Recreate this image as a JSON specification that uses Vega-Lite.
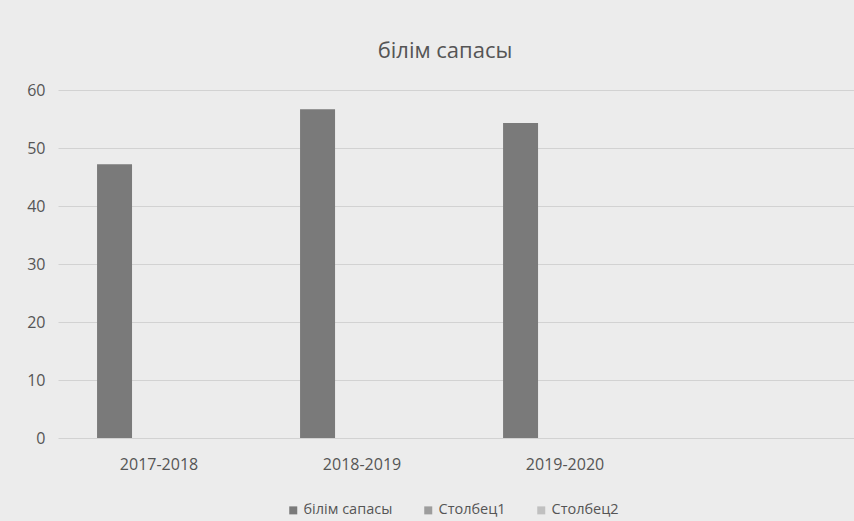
{
  "$schema": "https://vega.github.io/schema/vega-lite/v6.json",
  "width": 796,
  "height": 348,
  "autosize": "none",
  "padding": {"left": 58, "top": 90, "right": 0, "bottom": 83},
  "background": "#ececec",
  "title": {
    "text": "білім сапасы",
    "font": "Open Sans",
    "fontSize": 22,
    "fontWeight": "normal",
    "color": "#555555",
    "baseline": "alphabetic",
    "offset": 2,
    "dx": -11,
    "anchor": "middle"
  },
  "data": {
    "values": [
      {"year": "2017-2018", "series": "білім сапасы", "value": 47.2},
      {"year": "2018-2019", "series": "білім сапасы", "value": 56.7},
      {"year": "2019-2020", "series": "білім сапасы", "value": 54.3},
      {"year": "2017-2018", "series": "Столбец1", "value": null},
      {"year": "2018-2019", "series": "Столбец1", "value": null},
      {"year": "2019-2020", "series": "Столбец1", "value": null},
      {"year": "2017-2018", "series": "Столбец2", "value": null},
      {"year": "2018-2019", "series": "Столбец2", "value": null},
      {"year": "2019-2020", "series": "Столбец2", "value": null}
    ]
  },
  "mark": {"type": "bar"},
  "encoding": {
    "x": {
      "field": "year",
      "type": "nominal",
      "sort": null,
      "scale": {"domain": ["2017-2018", "2018-2019", "2019-2020"], "paddingInner": 0.483, "paddingOuter": 0.702, "align": 0.137},
      "axis": {
        "title": null,
        "labelAngle": 0,
        "labelOffset": 9.5,
        "domain": false,
        "ticks": false,
        "labelPadding": 18,
        "labelFontSize": 16,
        "labelColor": "#555555",
        "labelFont": "Open Sans"
      }
    },
    "xOffset": {
      "field": "series",
      "type": "nominal",
      "sort": null,
      "scale": {"domain": ["білім сапасы", "Столбец1", "Столбец2"], "paddingInner": 0, "paddingOuter": 0}
    },
    "y": {
      "field": "value",
      "type": "quantitative",
      "scale": {"domain": [0, 60], "nice": false},
      "axis": {
        "title": null,
        "values": [0, 10, 20, 30, 40, 50, 60],
        "domain": false,
        "ticks": false,
        "labelPadding": 13,
        "labelFontSize": 16,
        "labelColor": "#555555",
        "labelFont": "Open Sans",
        "gridColor": "#d2d2d2",
        "gridWidth": 1
      }
    },
    "color": {
      "field": "series",
      "type": "nominal",
      "sort": null,
      "scale": {"domain": ["білім сапасы", "Столбец1", "Столбец2"], "range": ["#7a7a7a", "#9d9d9d", "#c0c0c0"]},
      "legend": {
        "title": null,
        "orient": "none",
        "direction": "horizontal",
        "legendX": 228,
        "legendY": 413,
        "symbolType": "square",
        "symbolSize": 64,
        "symbolStrokeWidth": 0,
        "labelFontSize": 14.5,
        "labelFont": "Open Sans",
        "labelColor": "#555555",
        "labelOffset": 3,
        "columnPadding": 28
      }
    }
  },
  "config": {"view": {"stroke": null}}
}
